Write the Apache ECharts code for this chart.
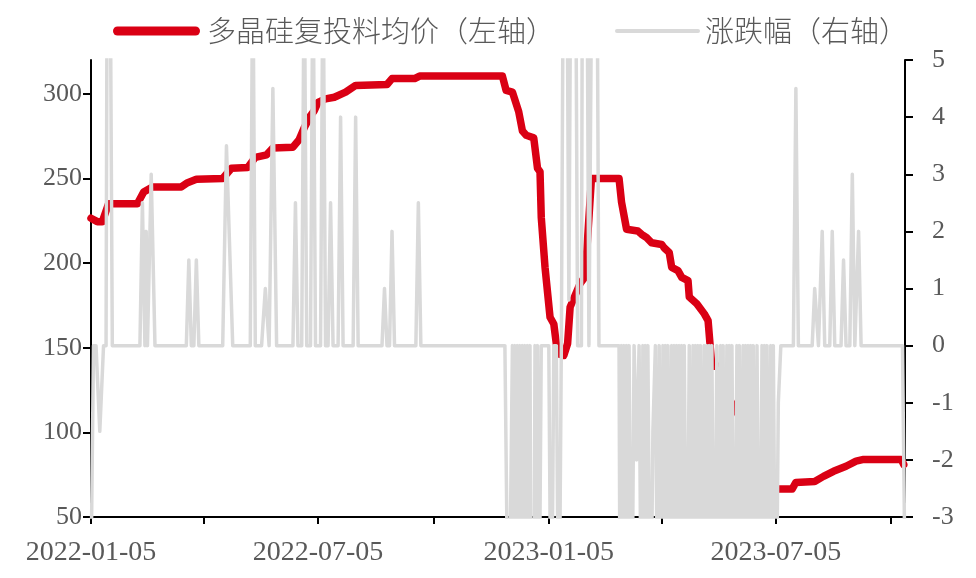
<!DOCTYPE html>
<html><head><meta charset="utf-8">
<script src="https://cdn.jsdelivr.net/npm/echarts@6/dist/echarts.min.js"></script>
<style>html,body{margin:0;padding:0;background:#fff}#c{width:976px;height:578px}</style>
</head><body><div id="c"></div>
<script>
const seriesNames = ['多晶硅复投料均价（左轴）', '涨跌幅（右轴）'];

const priceDates = ['2022-01-05','2022-01-10','2022-01-14','2022-01-19','2022-02-11','2022-02-16','2022-02-23','2022-03-18','2022-03-23','2022-03-30',
'2022-04-20','2022-04-27','2022-05-10','2022-05-16','2022-05-25','2022-05-30','2022-06-15','2022-06-20','2022-06-24','2022-06-29',
'2022-07-02','2022-07-05','2022-07-11','2022-07-18','2022-07-27','2022-08-04','2022-08-29','2022-09-02','2022-09-20','2022-09-24',
'2022-11-29','2022-12-02','2022-12-07','2022-12-12','2022-12-15','2022-12-18','2022-12-24','2022-12-27','2022-12-29','2022-12-30',
'2023-01-02','2023-01-06','2023-01-09','2023-01-12','2023-01-17','2023-01-20','2023-01-22','2023-01-30','2023-02-03','2023-02-08',
'2023-03-02','2023-03-04','2023-03-08','2023-03-17','2023-03-20','2023-03-24','2023-03-28','2023-04-05','2023-04-07','2023-04-11',
'2023-04-13','2023-04-18','2023-04-21','2023-04-26','2023-04-27','2023-05-03','2023-05-09','2023-05-12','2023-05-15','2023-05-21',
'2023-05-28','2023-06-07','2023-06-14','2023-06-19','2023-06-22','2023-06-28','2023-07-03','2023-07-18','2023-07-21','2023-08-05',
'2023-08-12','2023-08-20','2023-08-30','2023-09-07','2023-09-13','2023-10-13','2023-10-15'];
const priceValues = [226.5,224.5,224.5,235,235,242,245,245,247.5,249.5,
250,256,256.5,262.5,264,268,268.5,273,280,287,
290,295,297,298,301,305,305.5,309,309,310.5,
310.5,302,301,289.5,278,275.5,274,256,254,227,
197.5,168,164,146.5,145.5,152.5,174,188,192,250,
250,236,220,219,217,215,212,211,209,206.3,
197.5,195.6,191.6,189.7,180,176,170,166,139,139,
121,108,95,86,72,68.5,66.5,66.5,70.4,71,
74,77,80,83,84,84,81];

const changeDates = ['2022-01-05','2022-01-07','2022-01-09','2022-01-12','2022-01-15','2022-01-17','2022-01-18','2022-01-20','2022-01-22',
'2022-02-13','2022-02-15','2022-02-17','2022-02-18','2022-02-19','2022-02-22','2022-02-25',
'2022-03-22','2022-03-24','2022-03-26','2022-03-28','2022-03-30','2022-04-01',
'2022-04-20','2022-04-23','2022-04-28','2022-05-12','2022-05-14','2022-05-16','2022-05-21','2022-05-24','2022-05-27','2022-05-30','2022-06-02',
'2022-06-15','2022-06-17','2022-06-19','2022-06-22','2022-06-24','2022-06-26','2022-06-29','2022-07-01','2022-07-03',
'2022-07-07','2022-07-09','2022-07-11','2022-07-13','2022-07-15','2022-07-17','2022-07-21','2022-07-23','2022-07-25',
'2022-08-02','2022-08-04','2022-08-06','2022-08-25','2022-08-27','2022-08-29','2022-08-31','2022-09-02','2022-09-04',
'2022-09-21','2022-09-23','2022-09-25',
'2022-12-01','2022-12-04','2022-12-07','2022-12-08','2022-12-09','2022-12-10','2022-12-11','2022-12-12','2022-12-13','2022-12-14',
'2022-12-15','2022-12-16','2022-12-17','2022-12-18','2022-12-19','2022-12-20','2022-12-21','2022-12-22','2022-12-24','2022-12-25',
'2022-12-26','2022-12-27','2022-12-28','2022-12-30',
'2023-01-05','2023-01-07','2023-01-09','2023-01-11','2023-01-13','2023-01-15',
'2023-01-17','2023-01-19','2023-01-21','2023-01-23','2023-01-26','2023-01-28','2023-01-31','2023-02-01','2023-02-04','2023-02-06',
'2023-02-07','2023-02-09','2023-02-12','2023-02-14',
'2023-03-02','2023-03-03','2023-03-04','2023-03-05','2023-03-06','2023-03-07','2023-03-08','2023-03-09','2023-03-10','2023-03-12','2023-03-14','2023-03-16',
'2023-03-18','2023-03-20','2023-03-21','2023-03-22','2023-03-23','2023-03-24','2023-03-25','2023-03-27','2023-03-29','2023-03-31','2023-04-02','2023-04-03','2023-04-05',
'2023-04-06','2023-04-07','2023-04-08','2023-04-09','2023-04-10','2023-04-11','2023-04-13','2023-04-14','2023-04-15','2023-04-16','2023-04-17','2023-04-18','2023-04-19',
'2023-04-20','2023-04-21','2023-04-22','2023-04-23','2023-04-25','2023-04-27','2023-04-29','2023-04-30','2023-05-01','2023-05-02','2023-05-03','2023-05-04','2023-05-05',
'2023-05-06','2023-05-07','2023-05-09','2023-05-10','2023-05-11','2023-05-12','2023-05-13','2023-05-14','2023-05-15','2023-05-17','2023-05-19',
'2023-05-21','2023-05-22','2023-05-23','2023-05-24','2023-05-25','2023-05-27','2023-05-28','2023-05-29','2023-05-30','2023-05-31','2023-06-02','2023-06-04',
'2023-06-05','2023-06-06','2023-06-07','2023-06-09','2023-06-10','2023-06-11','2023-06-12','2023-06-13','2023-06-14','2023-06-15','2023-06-16','2023-06-17','2023-06-19',
'2023-06-20','2023-06-22','2023-06-24','2023-06-25','2023-06-26','2023-06-27','2023-06-28','2023-06-29','2023-07-01','2023-07-02','2023-07-03',
'2023-07-05','2023-07-07','2023-07-09',
'2023-07-19','2023-07-21','2023-07-23','2023-08-03','2023-08-05','2023-08-08','2023-08-11','2023-08-13',
'2023-08-17','2023-08-19','2023-08-21','2023-08-26','2023-08-28','2023-08-30','2023-09-02','2023-09-04','2023-09-06',
'2023-09-07','2023-09-09','2023-09-11','2023-10-14','2023-10-16'];
const changeValues = [-4,0,0,-1.5,0,0,8,8,0,
0,2.5,0,2,0,3,0,
0,1.5,0,0,1.5,0,
0,3.5,0,0,7,0,0,1,0,4.5,0,
0,2.5,0,0,7,0,0,7,0,
0,7,0,0,2.5,0,0,4,0,
0,4,0,0,1,0,0,2,0,
0,2.5,0,
0,-6,0,-6,0,-6,0,-6,0,-6,
0,-6,0,-6,0,-6,0,-6,-6,0,
-6,0,-6,0,
0,-6,0,0,-6,0,
9,9,0.8,9,9,0,0,9,9,0,
0,9,9,0,
0,-6,0,-6,0,-6,0,-6,0,-6,0,-2,
0,-6,0,-6,0,-6,0,-6,-1.5,0,-6,0,-6,
0,-6,0,-6,0,-6,0,-6,0,-6,0,-6,0,
-6,0,-6,0,-6,0,-6,0,-6,0,-6,0,-6,
0,-6,0,-6,0,-6,0,-6,0,-6,0,
-6,0,-6,0,-6,0,-6,0,-6,0,-6,0,
-6,0,-6,0,-6,0,-6,0,-6,0,-6,0,-6,
0,-6,0,-6,0,-6,0,-6,0,-6,0,
-6,-1,0,
0,4.5,0,0,1,0,2,0,
0,2,0,0,1.5,0,0,3,0,
0,2,0,0,-4];

const xTickDates = ['2022-01-05','2022-04-05','2022-07-05','2022-10-05','2023-01-05','2023-04-05','2023-07-05','2023-10-05'];
const xLabelDates = ['2022-01-05','2022-07-05','2023-01-05','2023-07-05'];
const leftTicks = [50,100,150,200,250,300];
const rightTicks = [-3,-2,-1,0,1,2,3,4,5];

function ts(s){const p=s.split('-').map(Number);return new Date(p[0],p[1]-1,p[2]).getTime();}
function fmt(v){const d=new Date(v);const m=d.getMonth()+1,dd=d.getDate();return d.getFullYear()+'-'+(m<10?'0':'')+m+'-'+(dd<10?'0':'')+dd;}

const RED='#da0014', GRAY='#d9d9d9', TXT='#595959';
const numFont='"Liberation Serif","Times New Roman",serif';
const cjkFont='"Noto Sans CJK SC","Liberation Serif",sans-serif';

const chart = echarts.init(document.getElementById('c'));
chart.setOption({
  animation:false,
  backgroundColor:'#fff',
  legend:[
    {left:108, top:11, itemWidth:87, itemHeight:9, selectedMode:false,
     icon:'path://M4.5,0 H82.5 A4.5,4.5 0 0 1 82.5,9 H4.5 A4.5,4.5 0 0 1 4.5,0 Z',
     data:[{name:seriesNames[0]}],
     textStyle:{fontFamily:cjkFont, fontWeight:300, fontSize:29, color:TXT, lineHeight:30, padding:[0,0,0,2]}},
    {left:610, top:11, itemWidth:85, itemHeight:4, selectedMode:false,
     icon:'path://M2,0 H83 A2,2 0 0 1 83,4 H2 A2,2 0 0 1 2,0 Z',
     data:[{name:seriesNames[1]}],
     textStyle:{fontFamily:cjkFont, fontWeight:300, fontSize:29, color:TXT, lineHeight:30}}
  ],
  grid:{left:91, right:71, top:60, bottom:61},
  xAxis:{
    type:'value', min:ts('2022-01-05'), max:ts('2023-10-16'), scale:true,
    axisLine:{onZero:false, lineStyle:{color:'#000', width:2}},
    axisTick:{show:true, length:7, lineStyle:{color:'#000', width:2}, customValues:xTickDates.map(ts)},
    axisLabel:{customValues:xLabelDates.map(ts), formatter:fmt, fontFamily:numFont, fontSize:28, color:TXT, margin:22},
    splitLine:{show:false}
  },
  yAxis:[
    {type:'value', position:'left', min:50, max:320, interval:50,
     axisLine:{show:true, onZero:false, lineStyle:{color:'#000', width:2}},
     axisTick:{show:true, length:8, lineStyle:{color:'#000', width:2}, customValues:leftTicks},
     axisLabel:{customValues:leftTicks, fontFamily:numFont, fontSize:26, color:TXT, margin:9},
     splitLine:{show:false}},
    {type:'value', position:'right', min:-3, max:5, interval:1,
     axisLine:{show:true, onZero:false, lineStyle:{color:'#000', width:2}},
     axisTick:{show:true, length:8, lineStyle:{color:'#000', width:2}, customValues:rightTicks},
     axisLabel:{customValues:rightTicks, fontFamily:numFont, fontSize:26, color:TXT, margin:27, align:'left'},
     splitLine:{show:false}}
  ],
  series:[
    {name:seriesNames[0], type:'line', yAxisIndex:0, symbol:'none', z:2,
     data:priceDates.map((d,i)=>[ts(d), priceValues[i]]),
     itemStyle:{color:RED}, lineStyle:{color:RED, width:7.5, cap:'round', join:'round'}},
    {name:seriesNames[1], type:'line', yAxisIndex:1, symbol:'none', z:3,
     data:changeDates.map((d,i)=>[ts(d), changeValues[i]]),
     itemStyle:{color:GRAY}, lineStyle:{color:GRAY, width:3.5, join:'round'}}
  ]
});
</script></body></html>
